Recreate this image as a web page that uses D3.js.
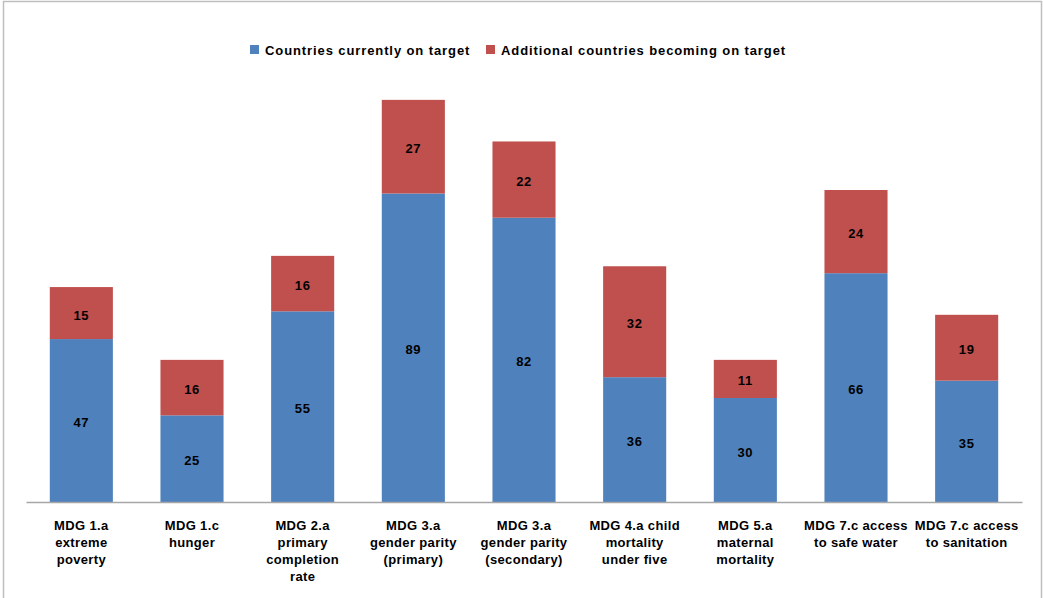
<!DOCTYPE html>
<html><head><meta charset="utf-8">
<script src="https://cdn.jsdelivr.net/npm/d3@7"></script>
<style>
html,body{margin:0;padding:0;background:#fff;}
svg{display:block;font-family:"Liberation Sans",Arial,sans-serif;}
</style></head>
<body>
<script>
const categories = [
  "MDG 1.a\nextreme\npoverty",
  "MDG 1.c\nhunger",
  "MDG 2.a\nprimary\ncompletion\nrate",
  "MDG 3.a\ngender parity\n(primary)",
  "MDG 3.a\ngender parity\n(secondary)",
  "MDG 4.a child\nmortality\nunder five",
  "MDG 5.a\nmaternal\nmortality",
  "MDG 7.c access\nto safe water",
  "MDG 7.c access\nto sanitation"
];
const currentOnTarget = [47, 25, 55, 89, 82, 36, 30, 66, 35];
const additionalOnTarget = [15, 16, 16, 27, 22, 32, 11, 24, 19];
const seriesNames = ["Countries currently on target", "Additional countries becoming on target"];
const colors = ["#4F81BD", "#C0504D"];

const W = 1043, H = 598;
const svg = d3.select("body").append("svg").attr("width", W).attr("height", H);

// outer frame
svg.append("path").attr("d", `M3.5,${H} V1.5 H1041.5 V${H}`)
  .attr("fill", "none").attr("stroke", "#bfbfbf").attr("stroke-width", 1.5);

const x = d3.scaleBand().domain(d3.range(categories.length)).range([26, 1022]).paddingInner(0.43).paddingOuter(0.215);
const y = d3.scaleLinear().domain([0, 120]).range([502, 86]);

const rows = categories.map((c, i) => ({i, a: currentOnTarget[i], b: additionalOnTarget[i]}));
const stack = d3.stack().keys(["a", "b"])(rows);

const g = svg.append("g");
stack.forEach((layer, k) => {
  g.selectAll(null).data(layer).enter().append("rect")
    .attr("x", d => x(d.data.i))
    .attr("width", x.bandwidth())
    .attr("y", d => y(d[1]))
    .attr("height", d => y(d[0]) - y(d[1]))
    .attr("fill", colors[k]);
  g.selectAll(null).data(layer).enter().append("text")
    .attr("x", d => x(d.data.i) + x.bandwidth() / 2)
    .attr("y", d => (y(d[0]) + y(d[1])) / 2)
    .attr("dy", "0.5em")
    .attr("text-anchor", "middle")
    .attr("font-size", 13).attr("font-weight", "bold").attr("fill", "#000")
    .attr("letter-spacing", 0.6)
    .text(d => d[1] - d[0]);
});

// x axis
const ax = svg.append("g").attr("transform", "translate(0,502)")
  .call(d3.axisBottom(x).tickSize(0).tickSizeOuter(0).tickFormat(""));
ax.select(".domain").attr("stroke", "#a6a6a6").attr("stroke-width", 1.5);
ax.selectAll(".tick text").remove();
ax.selectAll(".tick").each(function(d) {
  const t = d3.select(this).append("text")
    .attr("text-anchor", "middle").attr("fill", "#000")
    .attr("font-size", 13).attr("font-weight", "bold")
    .attr("letter-spacing", 0.35)
    .attr("font-family", "Liberation Sans, Arial, sans-serif");
  categories[d].split("\n").forEach((line, j) => {
    t.append("tspan").attr("x", 0).attr("y", 28 + j * 17).text(line);
  });
});

// legend
const legend = svg.append("g");
const legX = [250, 486];
seriesNames.forEach((n, k) => {
  legend.append("rect").attr("x", legX[k]).attr("y", 45).attr("width", 9).attr("height", 9).attr("fill", colors[k]);
  legend.append("text").attr("x", legX[k] + 15).attr("y", 50).attr("dy", "0.35em")
    .attr("font-size", 13).attr("font-weight", "bold").attr("fill", "#000")
    .attr("letter-spacing", 0.9).text(n);
});
</script>
</body></html>
